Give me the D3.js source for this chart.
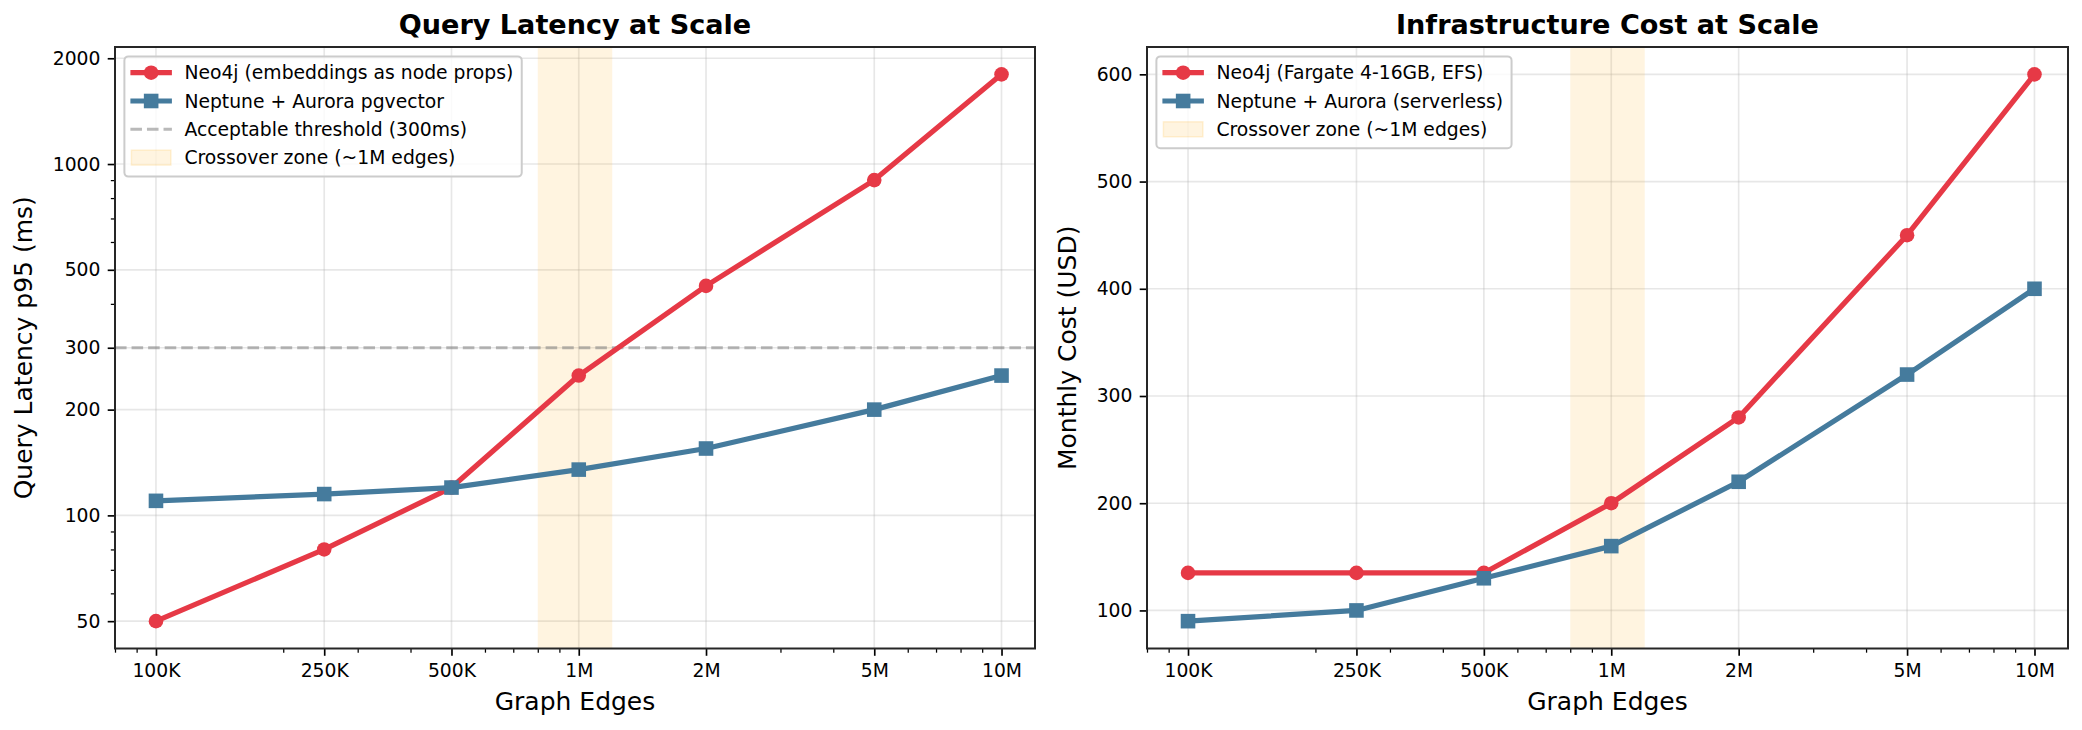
<!DOCTYPE html>
<html>
<head>
<meta charset="utf-8">
<script src="https://cdn.jsdelivr.net/npm/d3@7"></script>
<style>
  html, body { margin: 0; padding: 0; background: #fff; }
  svg { display: block; }
  text { font-family: "DejaVu Sans", sans-serif; fill: #000; }
</style>
</head>
<body>
<svg id="chart" width="2082" height="730"></svg>
<script>
// ---------------- data ----------------
const edges = [1e5, 2.5e5, 5e5, 1e6, 2e6, 5e6, 1e7];
const edgeLabels = ["100K", "250K", "500K", "1M", "2M", "5M", "10M"];
const edgeLimits = [8e4, 1.2e7];

const neo4jLatency = [50, 80, 120, 250, 450, 900, 1800];
const neptuneLatency = [110, 115, 120, 135, 155, 200, 250];
const latencyTicks = [50, 100, 200, 300, 500, 1000, 2000];
const thresholdMs = 300;

const neo4jCost = [135, 135, 135, 200, 280, 450, 600];
const neptuneCost = [90, 100, 130, 160, 220, 320, 400];
const costTicks = [100, 200, 300, 400, 500, 600];

const crossoverZone = [8e5, 1.2e6];

const latencyLegend = ["Neo4j (embeddings as node props)", "Neptune + Aurora pgvector",
                       "Acceptable threshold (300ms)", "Crossover zone (~1M edges)"];
const costLegend = ["Neo4j (Fargate 4-16GB, EFS)", "Neptune + Aurora (serverless)",
                    "Crossover zone (~1M edges)"];

// ---------------- style ----------------
const RED = "#E63946", BLUE = "#457B9D";
const PT = 150 / 72;
const LW = 2.5 * PT, MS = 7 * PT;
const TICK_FS = 9 * PT, LABEL_FS = 12 * PT, TITLE_FS = 13 * PT, LEG_FS = 9 * PT;
const MAJ = 3.5 * PT, MINR = 2 * PT;

const svg = d3.select("#chart");

function minorTicks(domain, majors) {
  const out = [];
  const lo = Math.floor(Math.log10(domain[0])), hi = Math.ceil(Math.log10(domain[1]));
  for (let e = lo; e <= hi; e++) {
    for (let k = 1; k <= 9; k++) {
      const v = k * Math.pow(10, e);
      if (v >= domain[0] * 0.9999 && v <= domain[1] * 1.0001 &&
          !majors.some(m => Math.abs(m - v) / v < 1e-6)) out.push(v);
    }
  }
  return out;
}

function panel(opts) {
  const { left, right, top, bottom } = opts;
  const g = svg.append("g");
  const x = d3.scaleLog().domain(edgeLimits).range([left, right]);
  const y = opts.y;

  // grid
  g.append("g").selectAll("line").data(edges).join("line")
    .attr("x1", d => x(d)).attr("x2", d => x(d)).attr("y1", top).attr("y2", bottom)
    .attr("stroke", "#b0b0b0").attr("stroke-opacity", 0.3).attr("stroke-width", 0.8 * PT);
  g.append("g").selectAll("line").data(opts.yTicks).join("line")
    .attr("x1", left).attr("x2", right).attr("y1", d => y(d)).attr("y2", d => y(d))
    .attr("stroke", "#b0b0b0").attr("stroke-opacity", 0.3).attr("stroke-width", 0.8 * PT);

  // crossover span
  g.append("rect")
    .attr("x", x(crossoverZone[0])).attr("width", x(crossoverZone[1]) - x(crossoverZone[0]))
    .attr("y", top).attr("height", bottom - top)
    .attr("fill", "#FFA500").attr("fill-opacity", 0.12);

  // threshold
  if (opts.threshold != null) {
    g.append("line")
      .attr("x1", left).attr("x2", right)
      .attr("y1", y(opts.threshold)).attr("y2", y(opts.threshold))
      .attr("stroke", "#808080").attr("stroke-opacity", 0.55)
      .attr("stroke-width", 1.5 * PT).attr("stroke-dasharray", `${3.7 * 1.5 * PT},${1.6 * 1.5 * PT}`);
  }

  const line = d3.line().x((d, i) => x(edges[i])).y(d => y(d));

  // Neo4j
  g.append("path").datum(opts.red).attr("d", line)
    .attr("fill", "none").attr("stroke", RED).attr("stroke-width", LW).attr("stroke-linejoin", "round");
  g.append("g").selectAll("circle").data(opts.red).join("circle")
    .attr("cx", (d, i) => x(edges[i])).attr("cy", d => y(d)).attr("r", MS / 2).attr("fill", RED);

  // Neptune
  g.append("path").datum(opts.blue).attr("d", line)
    .attr("fill", "none").attr("stroke", BLUE).attr("stroke-width", LW).attr("stroke-linejoin", "round");
  g.append("g").selectAll("rect").data(opts.blue).join("rect")
    .attr("x", (d, i) => x(edges[i]) - MS / 2).attr("y", d => y(d) - MS / 2)
    .attr("width", MS).attr("height", MS).attr("fill", BLUE);

  // x axis
  const xAxis = g.append("g").attr("transform", `translate(0,${bottom})`)
    .call(d3.axisBottom(x).tickValues(edges).tickFormat((d, i) => edgeLabels[i])
      .tickSize(MAJ).tickPadding(8.3).tickSizeOuter(0));
  xAxis.select(".domain").remove();
  xAxis.selectAll("line").attr("stroke", "#000").attr("stroke-width", 0.8 * PT);
  xAxis.selectAll("text").attr("font-size", TICK_FS).attr("font-family", "DejaVu Sans").attr("fill", "#000");
  const xMinor = g.append("g").attr("transform", `translate(0,${bottom})`)
    .call(d3.axisBottom(x).tickValues(minorTicks(edgeLimits, edges)).tickFormat("").tickSize(MINR).tickSizeOuter(0));
  xMinor.select(".domain").remove();
  xMinor.selectAll("line").attr("stroke", "#000").attr("stroke-width", 0.6 * PT);

  // y axis
  const yAxis = g.append("g").attr("transform", `translate(${left},0)`)
    .call(d3.axisLeft(y).tickValues(opts.yTicks).tickFormat(d3.format("d"))
      .tickSize(MAJ).tickPadding(MAJ).tickSizeOuter(0));
  yAxis.select(".domain").remove();
  yAxis.selectAll("line").attr("stroke", "#000").attr("stroke-width", 0.8 * PT);
  yAxis.selectAll("text").attr("font-size", TICK_FS).attr("font-family", "DejaVu Sans").attr("fill", "#000");
  if (opts.yMinor) {
    const yMinor = g.append("g").attr("transform", `translate(${left},0)`)
      .call(d3.axisLeft(y).tickValues(opts.yMinor).tickFormat("").tickSize(MINR).tickSizeOuter(0));
    yMinor.select(".domain").remove();
    yMinor.selectAll("line").attr("stroke", "#000").attr("stroke-width", 0.6 * PT);
  }

  // frame
  g.append("rect").attr("x", left).attr("y", top).attr("width", right - left).attr("height", bottom - top)
    .attr("fill", "none").attr("stroke", "#262626").attr("stroke-width", 2);

  // title and labels
  g.append("text").attr("x", (left + right) / 2).attr("y", 34).attr("text-anchor", "middle")
    .attr("font-size", TITLE_FS).attr("font-weight", "bold").text(opts.title);
  g.append("text").attr("x", (left + right) / 2).attr("y", 710).attr("text-anchor", "middle")
    .attr("font-size", LABEL_FS).text("Graph Edges");
  g.append("text").attr("transform", `translate(${opts.yLabelX},${(top + bottom) / 2}) rotate(-90)`)
    .attr("text-anchor", "middle").attr("font-size", LABEL_FS).text(opts.yLabel);

  // legend
  const lg = g.append("g");
  const lx = left + 9.4, ly = top + 9.4;
  const rowH = 28.3, firstRow = ly + 16.3;
  const frame = lg.append("rect").attr("x", lx).attr("y", ly).attr("rx", 4).attr("ry", 4)
    .attr("fill", "#fff").attr("fill-opacity", 0.8).attr("stroke", "#cccccc").attr("stroke-width", 2);
  const hx0 = lx + 6, hx1 = lx + 47.5, tx = lx + 60;
  let maxW = 0;
  opts.legend.forEach((item, i) => {
    const cy = firstRow + i * rowH;
    if (item.type === "red" || item.type === "blue") {
      const c = item.type === "red" ? RED : BLUE;
      lg.append("line").attr("x1", hx0).attr("x2", hx1).attr("y1", cy).attr("y2", cy)
        .attr("stroke", c).attr("stroke-width", LW);
      if (item.type === "red") {
        lg.append("circle").attr("cx", (hx0 + hx1) / 2).attr("cy", cy).attr("r", MS / 2).attr("fill", c);
      } else {
        lg.append("rect").attr("x", (hx0 + hx1) / 2 - MS / 2).attr("y", cy - MS / 2)
          .attr("width", MS).attr("height", MS).attr("fill", c);
      }
    } else if (item.type === "dash") {
      lg.append("line").attr("x1", hx0).attr("x2", hx1).attr("y1", cy).attr("y2", cy)
        .attr("stroke", "#808080").attr("stroke-opacity", 0.55).attr("stroke-width", 1.5 * PT)
        .attr("stroke-dasharray", `${3.7 * 1.5 * PT},${1.6 * 1.5 * PT}`);
    } else {
      lg.append("rect").attr("x", hx0 + 1).attr("y", cy - 7.5).attr("width", hx1 - hx0 - 2).attr("height", 15)
        .attr("fill", "#FFA500").attr("fill-opacity", 0.12)
        .attr("stroke", "#FFA500").attr("stroke-opacity", 0.15).attr("stroke-width", 1.5);
    }
    const t = lg.append("text").attr("x", tx).attr("y", cy).attr("dy", "0.36em")
      .attr("font-size", LEG_FS).text(item.label);
    maxW = Math.max(maxW, t.node().getComputedTextLength());
  });
  frame.attr("width", tx - lx + maxW + 8.5)
    .attr("height", opts.legend.length * rowH + 7);
}

// ---------------- left panel ----------------
const latAll = neo4jLatency.concat(neptuneLatency);
const lmin = Math.log10(d3.min(latAll)), lmax = Math.log10(d3.max(latAll));
const lpad = 0.05 * (lmax - lmin);
const yLat = d3.scaleLog().domain([Math.pow(10, lmin - lpad), Math.pow(10, lmax + lpad)]).range([648.5, 47]);

panel({
  left: 115, right: 1035, top: 47, bottom: 648.5,
  y: yLat, yTicks: latencyTicks,
  yMinor: minorTicks(yLat.domain(), latencyTicks),
  red: neo4jLatency, blue: neptuneLatency, threshold: thresholdMs,
  title: "Query Latency at Scale", yLabel: "Query Latency p95 (ms)", yLabelX: 32,
  legend: [
    { type: "red", label: latencyLegend[0] },
    { type: "blue", label: latencyLegend[1] },
    { type: "dash", label: latencyLegend[2] },
    { type: "span", label: latencyLegend[3] }
  ]
});

// ---------------- right panel ----------------
const costAll = neo4jCost.concat(neptuneCost);
const cmin = d3.min(costAll), cmax = d3.max(costAll), cpad = 0.05 * (cmax - cmin);
const yCost = d3.scaleLinear().domain([cmin - cpad, cmax + cpad]).range([648.5, 47]);

panel({
  left: 1147, right: 2068, top: 47, bottom: 648.5,
  y: yCost, yTicks: costTicks, yMinor: null,
  red: neo4jCost, blue: neptuneCost, threshold: null,
  title: "Infrastructure Cost at Scale", yLabel: "Monthly Cost (USD)", yLabelX: 1076,
  legend: [
    { type: "red", label: costLegend[0] },
    { type: "blue", label: costLegend[1] },
    { type: "span", label: costLegend[2] }
  ]
});
</script>
</body>
</html>
